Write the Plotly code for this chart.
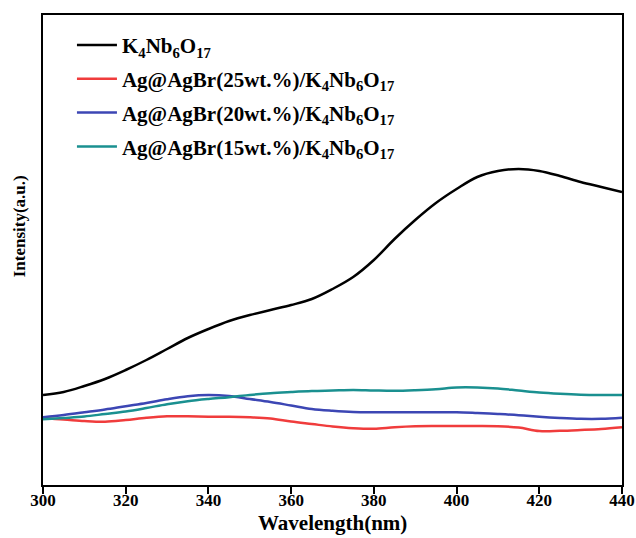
import plotly.graph_objects as go

wavelength = [300, 305, 310, 315, 320, 325, 330, 335, 340, 345, 350, 355, 360, 365, 370,
              375, 380, 385, 390, 395, 400, 405, 410, 415, 420, 425, 430, 435, 440]

k4nb6o17 = [90, 93, 99, 106, 115, 125, 136, 147, 156, 164, 170, 175, 180, 186, 196,
            208, 225, 246, 265, 282, 296, 308, 314, 316, 314, 309, 303, 298, 293]

ag25 = [66.7, 65.5, 64, 63.3, 65, 67.2, 68.7, 68.7, 68.3, 68.3, 67.8, 66.5, 63.5, 61, 58.5,
        56.8, 56.2, 57.8, 58.8, 59, 59, 59, 58.8, 57.5, 54, 54.2, 55, 56, 57.7]

ag20 = [67.7, 70, 72.7, 75.5, 78.8, 82, 85.8, 88.8, 90, 89, 86, 83, 79.5, 76, 74.2,
        73, 72.7, 72.7, 72.7, 72.7, 72.8, 72, 71, 69.8, 68.2, 67, 66.2, 66.2, 67.3]

ag15 = [65.7, 67, 68.5, 71, 73.5, 77, 80.8, 83.8, 86, 87.8, 90, 91.8, 93, 94, 94.5,
        95, 94.5, 94.2, 94.8, 95.8, 97.5, 97.5, 96.5, 94.5, 92.5, 91.2, 90.3, 90, 90]

names = [
    "K<sub>4</sub>Nb<sub>6</sub>O<sub>17</sub>",
    "Ag@AgBr(25wt.%)/K<sub>4</sub>Nb<sub>6</sub>O<sub>17</sub>",
    "Ag@AgBr(20wt.%)/K<sub>4</sub>Nb<sub>6</sub>O<sub>17</sub>",
    "Ag@AgBr(15wt.%)/K<sub>4</sub>Nb<sub>6</sub>O<sub>17</sub>",
]
series = [k4nb6o17, ag25, ag20, ag15]
colors = ["#000000", "#f03c3c", "#3c46b4", "#1a9090"]

fig = go.Figure()
for i, (n, s, c) in enumerate(zip(names, series, colors)):
    fig.add_trace(go.Scatter(x=wavelength, y=s, mode="lines", name=n,
                             legendgroup=f"g{i}",
                             line=dict(color=c, width=2.5, shape="spline")))

font_family = "Liberation Serif"
fig.update_layout(
    width=636, height=538,
    margin=dict(l=43, r=14, t=15, b=53),
    paper_bgcolor="white", plot_bgcolor="white",
    font=dict(family=font_family, color="black"),
    showlegend=True,
    legend=dict(x=0.05, y=0.979, xanchor="left", yanchor="top",
                bgcolor="rgba(0,0,0,0)",
                font=dict(family=font_family, size=21, color="black", weight="bold"),
                tracegroupgap=3.5, itemwidth=40),
    xaxis=dict(range=[300, 440], dtick=20, tick0=300, automargin=False,
               showline=True, linecolor="black", linewidth=2, mirror=True,
               ticks="outside", ticklen=7, tickwidth=2, tickcolor="black",
               ticklabelstandoff=-8,
               showgrid=False, zeroline=False,
               tickfont=dict(family=font_family, size=17, color="black", weight="bold")),
    yaxis=dict(range=[0, 470], automargin=False,
               showline=True, linecolor="black", linewidth=2, mirror=True,
               ticks="", showticklabels=False, showgrid=False, zeroline=False),
    annotations=[
        dict(text="Intensity(a.u.)", xref="paper", yref="paper",
             x=-0.04, y=0.55, xanchor="center", yanchor="middle",
             textangle=-90, showarrow=False,
             font=dict(family=font_family, size=17, color="black", weight="bold")),
        dict(text="Wavelength(nm)", xref="paper", yref="paper",
             x=0.5, y=-0.081, xanchor="center", yanchor="middle",
             showarrow=False,
             font=dict(family=font_family, size=21, color="black", weight="bold")),
    ],
)

fig.write_html("out.html",
               config={"displayModeBar": False},
               post_script="document.body.style.margin='0';document.body.style.overflow='hidden';")
